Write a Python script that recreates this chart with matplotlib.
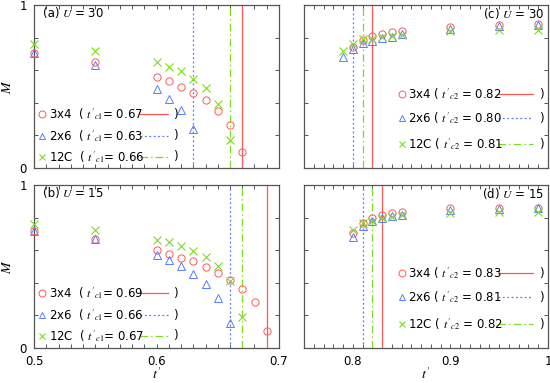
import matplotlib
matplotlib.use("Agg")
import matplotlib.pyplot as plt
import numpy as np
from matplotlib.ticker import MultipleLocator, FixedLocator, FixedFormatter

# ---------------- data ----------------
# Panel (a) U=30, small t'
a_t_3x4 = [0.50, 0.55, 0.60, 0.61, 0.62, 0.63, 0.64, 0.65, 0.66, 0.67]
a_M_3x4 = [0.704, 0.651, 0.557, 0.531, 0.494, 0.461, 0.416, 0.349, 0.263, 0.096]
a_t_2x6 = [0.50, 0.55, 0.60, 0.61, 0.62, 0.63]
a_M_2x6 = [0.704, 0.629, 0.484, 0.424, 0.357, 0.241]
a_t_12C = [0.50, 0.55, 0.60, 0.61, 0.62, 0.63, 0.64, 0.65, 0.66]
a_M_12C = [0.763, 0.720, 0.649, 0.622, 0.594, 0.549, 0.492, 0.392, 0.173]
a_tc = [0.67, 0.63, 0.66]

# Panel (b) U=15, small t'
b_t_3x4 = [0.50, 0.55, 0.60, 0.61, 0.62, 0.63, 0.64, 0.65, 0.66, 0.67, 0.68, 0.69]
b_M_3x4 = [0.719, 0.668, 0.600, 0.578, 0.555, 0.531, 0.500, 0.463, 0.420, 0.365, 0.283, 0.105]
b_t_2x6 = [0.50, 0.55, 0.60, 0.61, 0.62, 0.63, 0.64, 0.65, 0.66]
b_M_2x6 = [0.719, 0.668, 0.568, 0.537, 0.502, 0.455, 0.395, 0.307, 0.156]
b_t_12C = [0.50, 0.55, 0.60, 0.61, 0.62, 0.63, 0.64, 0.65, 0.66, 0.67]
b_M_12C = [0.760, 0.723, 0.664, 0.648, 0.625, 0.596, 0.561, 0.506, 0.412, 0.191]
b_tc = [0.69, 0.66, 0.67]

# Panel (c) U=30, large t'
c_t_3x4 = [0.80, 0.81, 0.82, 0.83, 0.84, 0.85, 0.90, 0.95, 0.99]
c_M_3x4 = [0.745, 0.786, 0.810, 0.822, 0.833, 0.841, 0.867, 0.877, 0.884]
c_t_2x6 = [0.79, 0.80, 0.81, 0.82, 0.83, 0.84, 0.85, 0.90, 0.95, 0.99]
c_M_2x6 = [0.680, 0.731, 0.765, 0.778, 0.796, 0.806, 0.820, 0.853, 0.871, 0.877]
c_t_12C = [0.79, 0.80, 0.81, 0.82, 0.83, 0.84, 0.85, 0.90, 0.95, 0.99]
c_M_12C = [0.718, 0.759, 0.790, 0.792, 0.802, 0.810, 0.814, 0.843, 0.849, 0.849]
c_tc = [0.82, 0.80, 0.81]

# Panel (d) U=15, large t'
d_t_3x4 = [0.80, 0.81, 0.82, 0.83, 0.84, 0.85, 0.90, 0.95, 0.99]
d_M_3x4 = [0.703, 0.768, 0.797, 0.818, 0.830, 0.836, 0.857, 0.859, 0.861]
d_t_2x6 = [0.80, 0.81, 0.82, 0.83, 0.84, 0.85, 0.90, 0.95, 0.99]
d_M_2x6 = [0.682, 0.748, 0.781, 0.795, 0.809, 0.818, 0.846, 0.852, 0.857]
d_t_12C = [0.80, 0.81, 0.82, 0.83, 0.84, 0.85, 0.90, 0.95, 0.99]
d_M_12C = [0.723, 0.768, 0.777, 0.795, 0.805, 0.816, 0.826, 0.832, 0.832]
d_tc = [0.83, 0.81, 0.82]

series_names = ["3x4", "2x6", "12C"]

# ---------------- style ----------------
RED = "#ff5a5a"
BLUE = "#5b7bff"
GREEN = "#7ddc1f"
SPINE = "#555555"
colors = [RED, BLUE, GREEN]
markers = ["o", "^", "x"]
lstyles = ["-", (0, (1.5, 2.0)), (0, (6, 2.5, 1.2, 2.5))]

fig = plt.figure(figsize=(5.5, 3.83), dpi=100)
W, H = 550.0, 383.0

def axrect(x0, y0, x1, y1):
    return [x0 / W, (H - y1) / H, (x1 - x0) / W, (y1 - y0) / H]

axA = fig.add_axes(axrect(34, 5, 279, 168))
axB = fig.add_axes(axrect(34, 185, 279, 348))
axC = fig.add_axes(axrect(304, 5, 548, 168))
axD = fig.add_axes(axrect(304, 185, 548, 348))

def style_axis(ax, left):
    for s in ax.spines.values():
        s.set_color(SPINE)
        s.set_linewidth(0.9)
    ax.set_ylim(0, 1)
    if left:
        ax.set_xlim(0.5, 0.7)
        ax.xaxis.set_major_locator(FixedLocator([0.5, 0.6, 0.7]))
        ax.xaxis.set_major_formatter(FixedFormatter(["0.5", "0.6", "0.7"]))
    else:
        ax.set_xlim(0.75, 1.0)
        ax.xaxis.set_major_locator(FixedLocator([0.8, 0.9, 1.0]))
        ax.xaxis.set_major_formatter(FixedFormatter(["0.8", "0.9", "1"]))
    ax.xaxis.set_minor_locator(MultipleLocator(0.01))
    ax.yaxis.set_major_locator(FixedLocator([0, 1]))
    ax.yaxis.set_major_formatter(FixedFormatter(["0", "1"]))
    ax.yaxis.set_minor_locator(MultipleLocator(0.2))
    ax.tick_params(which="both", direction="in", top=True, right=True,
                   color=SPINE, labelsize=8.5, width=0.7)
    ax.tick_params(which="major", length=3)
    ax.tick_params(which="minor", length=3)
    ax.tick_params(axis="x", pad=5)
    ax.tick_params(axis="y", pad=5)
    if not left:
        ax.tick_params(labelleft=False)

panels = [
    (axA, True, "(a)", "30", "c1",
     [(a_t_3x4, a_M_3x4), (a_t_2x6, a_M_2x6), (a_t_12C, a_M_12C)], a_tc),
    (axB, True, "(b)", "15", "c1",
     [(b_t_3x4, b_M_3x4), (b_t_2x6, b_M_2x6), (b_t_12C, b_M_12C)], b_tc),
    (axC, False, "(c)", "30", "c2",
     [(c_t_3x4, c_M_3x4), (c_t_2x6, c_M_2x6), (c_t_12C, c_M_12C)], c_tc),
    (axD, False, "(d)", "15", "c2",
     [(d_t_3x4, d_M_3x4), (d_t_2x6, d_M_2x6), (d_t_12C, d_M_12C)], d_tc),
]

leg_rows = {
    "(a)": [0.329, 0.198, 0.069],
    "(b)": [0.336, 0.202, 0.075],
    "(c)": [0.452, 0.305, 0.147],
    "(d)": [0.458, 0.311, 0.147],
}

for ax, left, tag, U, sub, data, tcs in panels:
    style_axis(ax, left)
    for i, (t, M) in enumerate(data):
        if markers[i] == "x":
            ax.plot(t, M, ls="none", marker="x", ms=5.2, mew=0.8,
                    color=colors[i], clip_on=False, zorder=3)
        else:
            ax.plot(t, M, ls="none", marker=markers[i], ms=5.2, mew=0.7,
                    mfc="none", mec=colors[i], clip_on=False, zorder=3)
        ax.axvline(tcs[i], color=colors[i], ls=lstyles[i], lw=0.9, zorder=2)

    # panel label
    if left:
        ax.text(0.038, 0.95, tag + " ", transform=ax.transAxes, fontsize=8.5,
                va="center", ha="left")
        ax.text(0.115, 0.95, r"$U$ = " + U, transform=ax.transAxes, fontsize=8.5,
                va="center", ha="left", math_fontfamily="stix")
    else:
        ax.text(0.985, 0.95, tag + r" $U$ = " + U, transform=ax.transAxes,
                fontsize=8.5, va="center", ha="right", math_fontfamily="stix")

    # custom legend
    if left:
        xm, xt, xl0, xl1, xp = 0.034, 0.063, 0.431, 0.545, 0.566
        lab_fmt = "{}  ( $t'_{{{}}}$= {:.2f}"
    else:
        xm, xt, xl0, xl1, xp = 0.40, 0.428, 0.794, 0.937, 0.962
        lab_fmt = "{} ( $t'_{{{}}}$ = {:.2f}"
    for i, yy in enumerate(leg_rows[tag]):
        if markers[i] == "x":
            ax.plot([xm], [yy], transform=ax.transAxes, ls="none", marker="x",
                    ms=5.0, mew=0.8, color=colors[i], clip_on=False)
        else:
            ax.plot([xm], [yy], transform=ax.transAxes, ls="none",
                    marker=markers[i], ms=5.0, mew=0.7, mfc="none",
                    mec=colors[i], clip_on=False)
        ax.text(xt, yy, lab_fmt.format(series_names[i], sub, tcs[i]),
                transform=ax.transAxes, fontsize=8.5, va="center", ha="left",
                math_fontfamily="stix")
        ax.plot([xl0, xl1], [yy, yy], transform=ax.transAxes,
                color=colors[i], ls=lstyles[i], lw=0.9)
        ax.text(xp, yy, ")", transform=ax.transAxes, fontsize=8.5,
                va="center", ha="left")

for ax in (axA, axB):
    ax.set_ylabel(r"$M$", fontsize=10, math_fontfamily="stix", labelpad=4)
for ax in (axA, axC):
    ax.tick_params(labelbottom=False)
for ax in (axB, axD):
    ax.set_xlabel(r"$t'$", fontsize=10, math_fontfamily="stix", labelpad=-1)

fig.savefig("out.png", dpi=100)
